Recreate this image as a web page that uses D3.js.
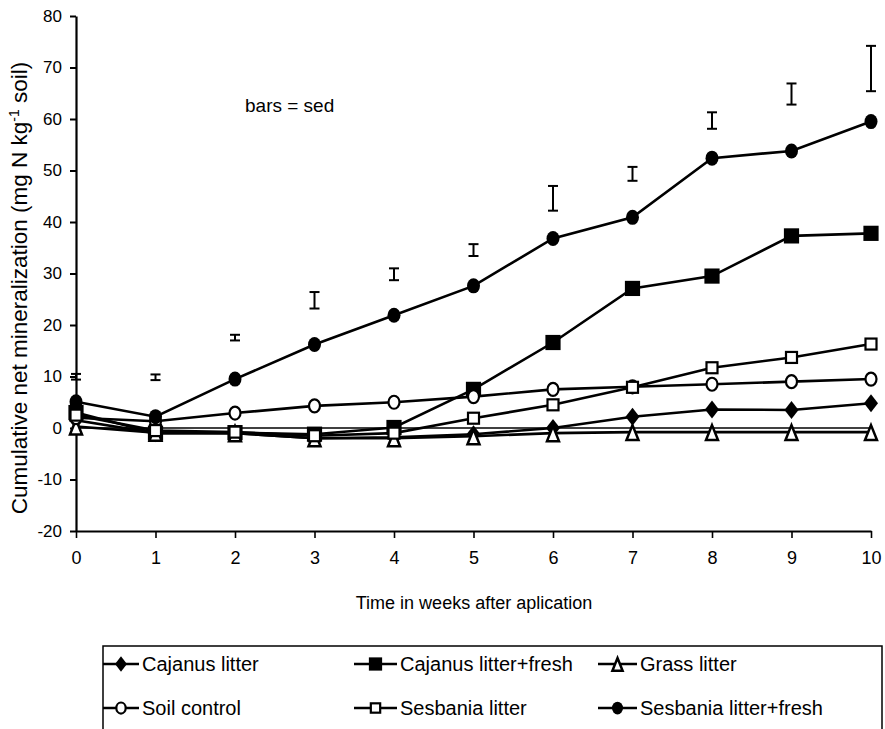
<!DOCTYPE html>
<html lang="en">
	<head>
		<meta charset="utf-8">
		<title>Cumulative net mineralization</title>
		<script type="text/javascript" src="https://cdn.jsdelivr.net/npm/d3@7/dist/d3.min.js"></script>
		<style type="text/css">
			body { margin: 0; background: #fff; }
			text { font-family: "Liberation Sans Narrow", "Arial Narrow", "Liberation Sans", Arial, sans-serif; fill: #000; }
		</style>
	</head>
	<body>
		<script type="text/javascript">

			//Data
			var weeks = [0, 1, 2, 3, 4, 5, 6, 7, 8, 9, 10];
			var cajanusLitter  = [1.5, -1.0, -1.0, -2.0, -1.8, -1.2, 0.0, 2.2, 3.6, 3.5, 4.8];
			var cajanusFresh   = [3.0, -1.0, -0.9, -1.2, 0.1, 7.5, 16.6, 27.1, 29.5, 37.3, 37.8];
			var grassLitter    = [0.3, -0.9, -1.0, -2.0, -2.0, -1.6, -1.0, -0.8, -0.8, -0.8, -0.8];
			var soilControl    = [2.0, 1.3, 2.9, 4.3, 5.0, 6.1, 7.5, 8.0, 8.5, 9.0, 9.5];
			var sesbaniaLitter = [2.5, -0.5, -0.8, -1.5, -1.0, 1.9, 4.5, 7.9, 11.7, 13.7, 16.3];
			var sesbaniaFresh  = [5.1, 2.2, 9.5, 16.2, 21.9, 27.6, 36.8, 40.9, 52.4, 53.8, 59.5];

			//sed bars (low and high ends)
			var sedLow  = [9.4, 9.3, 17.0, 23.2, 28.7, 33.4, 42.2, 48.0, 58.1, 62.8, 65.4];
			var sedHigh = [10.5, 10.4, 18.1, 26.4, 31.0, 35.7, 47.0, 50.7, 61.3, 66.9, 74.2];

			var yTicks = [-20, -10, 0, 10, 20, 30, 40, 50, 60, 70, 80];

			var seriesNames = ["Cajanus litter", "Cajanus litter+fresh", "Grass litter",
			                   "Soil control", "Sesbania litter", "Sesbania litter+fresh"];
			var seriesValues = [cajanusLitter, cajanusFresh, grassLitter,
			                    soilControl, sesbaniaLitter, sesbaniaFresh];
			var seriesMarkers = ["diamond", "square", "triangle", "circleOpen", "squareOpen", "circle"];

			//Width and height
			var w = 885;
			var h = 729;
			var plotLeft = 76, plotRight = 871, plotTop = 16, plotBottom = 531;

			var xScale = d3.scaleLinear().domain([0, 10]).range([plotLeft, plotRight]);
			var yScale = d3.scaleLinear().domain([-20, 80]).range([plotBottom, plotTop]);

			var svg = d3.select("body")
						.append("svg")
						.attr("width", w)
						.attr("height", h);

			//Marker drawing, k scales it down for the legend
			var drawMarker = function(g, type, k) {
				if (type == "diamond") {
					g.append("path").attr("d", "M0," + (-9 * k) + "L" + (7 * k) + ",0L0," + (9 * k) + "L" + (-7 * k) + ",0Z")
						.attr("fill", "#000");
				} else if (type == "square" || type == "squareOpen") {
					var s = type == "square" ? 6.5 : 5.5;
					g.append("rect")
						.attr("x", -s * k).attr("y", -s * k)
						.attr("width", 2 * s * k).attr("height", 2 * s * k)
						.attr("fill", type == "square" ? "#000" : "#fff")
						.attr("stroke", "#000").attr("stroke-width", 2.2);
				} else if (type == "triangle") {
					g.append("path").attr("d", "M0," + (-7 * k) + "L" + (6 * k) + "," + (8 * k) + "L" + (-6 * k) + "," + (8 * k) + "Z")
						.attr("fill", "#fff").attr("stroke", "#000").attr("stroke-width", 2.5);
				} else if (type == "circle") {
					g.append("ellipse").attr("rx", 6.5 * k).attr("ry", 7.5 * k).attr("fill", "#000");
				} else {
					g.append("ellipse").attr("rx", 5.5 * k).attr("ry", 6.5 * k)
						.attr("fill", "#fff").attr("stroke", "#000").attr("stroke-width", 2.2);
				}
			};

			//Zero line
			svg.append("line")
				.attr("x1", xScale(0)).attr("x2", xScale(10))
				.attr("y1", yScale(0)).attr("y2", yScale(0))
				.attr("stroke", "#000").attr("stroke-width", 1.6);

			//Axes (plain hyphen for negatives, as in the original)
			var plain = function(d) { return String(d); };
			var yAxis = d3.axisLeft(yScale).tickValues(yTicks).tickFormat(plain).tickSize(6).tickSizeOuter(0).tickPadding(8);
			var gy = svg.append("g").attr("transform", "translate(" + plotLeft + ",0)").call(yAxis);
			gy.select(".domain").attr("stroke-width", 2.2);
			gy.selectAll(".tick line").attr("stroke-width", 2);
			gy.selectAll(".tick text").attr("font-size", "17px").attr("font-family", null);

			var xAxis = d3.axisBottom(xScale).tickValues(weeks).tickFormat(plain).tickSize(7).tickSizeOuter(0).tickPadding(13);
			var gx = svg.append("g").attr("transform", "translate(0," + plotBottom + ")").call(xAxis);
			gx.select(".domain").attr("stroke-width", 2.2);
			gx.selectAll(".tick line").attr("stroke-width", 1.6);
			gx.selectAll(".tick text").attr("font-size", "18px").attr("font-family", null);

			//Axis titles
			svg.append("text")
				.attr("x", 474).attr("y", 609)
				.attr("text-anchor", "middle")
				.attr("font-size", "18px")
				.text("Time in weeks after aplication");

			var yTitle = svg.append("text")
				.attr("transform", "translate(27,288) rotate(-90)")
				.attr("text-anchor", "middle")
				.attr("font-size", "22.5px");
			yTitle.append("tspan").text("Cumulative net mineralization (mg N kg");
			yTitle.append("tspan").attr("font-size", "14px").attr("dy", "-8").text("-1");
			yTitle.append("tspan").attr("dy", "8").text(" soil)");

			svg.append("text")
				.attr("x", 245).attr("y", 112)
				.attr("font-size", "19px")
				.text("bars = sed");

			//Error bars
			var bars = svg.selectAll("g.sed")
				.data(weeks)
				.enter()
				.append("g")
				.attr("class", "sed");
			bars.append("line")
				.attr("x1", function(d) { return xScale(d); })
				.attr("x2", function(d) { return xScale(d); })
				.attr("y1", function(d, i) { return yScale(sedLow[i]); })
				.attr("y2", function(d, i) { return yScale(sedHigh[i]); })
				.attr("stroke", "#000").attr("stroke-width", 2);
			[sedLow, sedHigh].forEach(function(arr) {
				bars.append("line")
					.attr("x1", function(d) { return xScale(d) - 5; })
					.attr("x2", function(d) { return xScale(d) + 5; })
					.attr("y1", function(d, i) { return yScale(arr[i]); })
					.attr("y2", function(d, i) { return yScale(arr[i]); })
					.attr("stroke", "#000").attr("stroke-width", 2);
			});

			//Lines and markers
			var line = d3.line()
				.x(function(d, i) { return xScale(weeks[i]); })
				.y(function(d) { return yScale(d); });

			seriesValues.forEach(function(values) {
				svg.append("path")
					.attr("d", line(values))
					.attr("fill", "none")
					.attr("stroke", "#000")
					.attr("stroke-width", 2.6);
			});
			seriesValues.forEach(function(values, s) {
				svg.selectAll("g.m" + s)
					.data(values)
					.enter()
					.append("g")
					.attr("class", "m" + s)
					.attr("transform", function(d, i) { return "translate(" + xScale(weeks[i]) + "," + yScale(d) + ")"; })
					.each(function() { drawMarker(d3.select(this), seriesMarkers[s], 1); });
			});

			//Legend
			var legend = svg.append("g");
			legend.append("rect")
				.attr("x", 103).attr("y", 646)
				.attr("width", 779).attr("height", 100)
				.attr("fill", "none").attr("stroke", "#000").attr("stroke-width", 1.5);

			var colX = [103, 354, 598];
			var colText = [142, 400, 640];
			var rowY = [664, 708];
			seriesNames.forEach(function(name, i) {
				var c = i % 3, r = Math.floor(i / 3);
				var g = legend.append("g");
				g.append("line")
					.attr("x1", colX[c]).attr("x2", colText[c] - 3)
					.attr("y1", rowY[r]).attr("y2", rowY[r])
					.attr("stroke", "#000").attr("stroke-width", 2.4);
				var mg = g.append("g").attr("transform", "translate(" + ((colX[c] + colText[c] - 3) / 2) + "," + rowY[r] + ")");
				drawMarker(mg, seriesMarkers[i], 0.85);
				g.append("text")
					.attr("x", colText[c]).attr("y", rowY[r] + 7)
					.attr("font-size", "20px")
					.text(name);
			});

		</script>
	</body>
</html>
